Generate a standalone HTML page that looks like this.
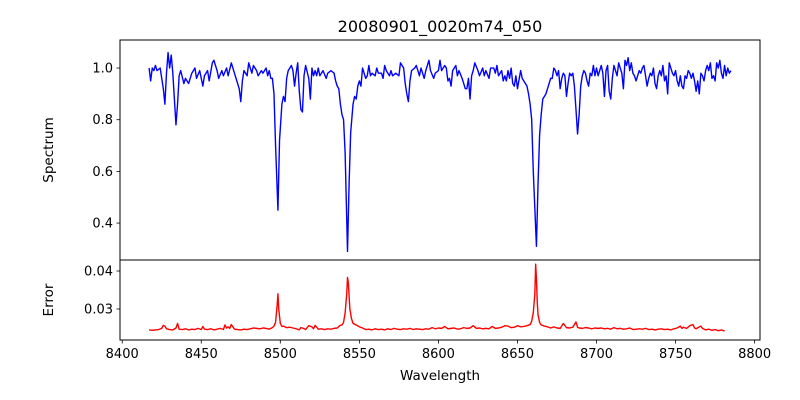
<!DOCTYPE html>
<html><head><meta charset="utf-8"><style>
html,body{margin:0;padding:0;background:#fff;}
svg{display:block;font-family:"DejaVu Sans","Liberation Sans",sans-serif;}
</style></head><body>
<svg id="chart" width="800" height="400" viewBox="0 0 800 400">
<rect x="0" y="0" width="800" height="400" fill="#fff"/>
<text x="440" y="32" font-size="16" text-anchor="middle">20080901_0020m74_050</text>
<text x="0" y="0" font-size="13.5" text-anchor="middle" transform="translate(53,150) rotate(-90)">Spectrum</text>
<text x="0" y="0" font-size="13.5" text-anchor="middle" transform="translate(53,300) rotate(-90)">Error</text>
<text x="440" y="380" font-size="13.5" text-anchor="middle">Wavelength</text>
<g id="topPanel"></g>
<g id="botPanel"></g>
</svg>
<script>
const specWave=[8417,8418,8419,8420,8421,8422,8424,8425,8426,8427,8428,8429,8430,8431,8432,8433,8434,8435,8436,8437,8439,8440,8442,8444,8446,8447,8449,8451,8452,8454,8455,8457,8458,8460,8461,8463,8464,8466,8467,8469,8471,8472,8474,8475,8476,8477,8479,8480,8482,8483,8485,8486,8488,8489,8491,8492,8493,8494,8495,8496,8497,8498.5,8499.5,8501,8502,8503,8504,8505,8507,8508,8509,8510,8511,8512,8513,8514,8515,8516,8518,8519,8520,8521,8522,8523,8524,8525,8527,8529,8530,8532,8534,8535,8536,8537,8538,8539,8540,8541,8542.5,8543.5,8544.5,8546,8547,8548,8549,8550,8551,8552,8553,8554,8555,8556,8557,8558,8560,8561,8562,8564,8565,8566,8567,8569,8570,8571,8573,8575,8576,8578,8579,8580,8581,8582,8583,8585,8586,8588,8589,8591,8592,8594,8595,8597,8598,8600,8601,8602,8604,8605,8606,8607,8608,8609,8611,8612,8613,8615,8616,8617,8618,8619,8620,8621,8622,8623,8625,8626,8628,8629,8630,8632,8633,8635,8636,8637,8638,8640,8641,8642,8643,8644,8645,8646,8647,8648,8649,8650,8652,8653,8654,8655,8656,8657,8658,8659,8660,8662,8663,8664,8665,8666,8667,8668,8669,8670,8671,8672,8673,8674,8675,8676,8677,8678,8679,8680,8681,8682,8683,8684,8685,8686,8687,8688,8689,8690,8691,8692,8693,8694,8695,8696,8697,8698,8699,8700,8701,8702,8703,8704,8705,8706,8707,8708,8709,8710,8711,8712,8713,8714,8715,8716,8717,8718,8719,8720,8721,8722,8723,8724,8725,8726,8727,8728,8729,8730,8731,8732,8733,8734,8735,8736,8737,8738,8739,8740,8741,8742,8743,8744,8745,8746,8747,8748,8749,8750,8751,8752,8753,8754,8755,8756,8757,8758,8759,8760,8761,8762,8763,8764,8765,8766,8767,8768,8769,8770,8771,8772,8773,8774,8775,8776,8777,8778,8779,8780,8781,8782,8783,8784,8785];
const specFlux=[1.00,0.95,1.00,0.99,1.01,0.99,1.00,0.96,0.92,0.86,0.98,1.06,1.00,1.05,0.98,0.88,0.78,0.86,0.97,0.99,0.94,0.96,0.94,0.98,1.00,0.96,0.99,0.93,0.97,0.99,0.95,1.02,1.03,0.99,0.96,0.99,0.97,1.00,0.97,1.02,0.98,0.96,0.92,0.87,0.95,0.99,0.97,1.02,0.98,1.01,0.99,0.97,0.99,0.98,1.00,0.97,0.99,0.96,0.96,0.90,0.70,0.45,0.72,0.86,0.89,0.87,0.96,0.99,1.01,0.99,0.93,0.98,1.02,0.91,0.84,0.83,0.97,1.01,0.96,0.88,1.00,0.97,0.99,0.97,1.00,0.97,0.99,0.96,0.98,0.99,0.98,0.95,0.93,0.92,0.86,0.82,0.80,0.67,0.29,0.55,0.75,0.86,0.89,0.88,0.93,0.95,0.93,1.00,0.98,0.96,0.97,1.01,0.97,0.98,0.97,1.00,0.98,0.98,0.96,1.01,0.99,0.97,0.99,0.97,0.98,0.97,1.02,1.00,0.94,0.90,0.87,0.95,0.99,1.00,1.01,0.97,1.00,0.96,0.99,1.03,0.99,0.96,0.98,0.99,1.03,0.99,1.01,1.00,0.95,0.96,0.93,0.99,1.01,0.97,0.99,0.96,0.94,0.92,0.92,0.96,0.88,0.97,0.99,1.02,0.99,0.97,1.00,0.97,0.99,0.96,1.00,1.00,0.98,1.01,0.97,0.99,0.95,0.97,0.95,0.99,0.96,1.00,0.94,0.93,0.97,0.92,0.99,0.96,0.95,0.94,0.93,0.90,0.86,0.80,0.60,0.31,0.55,0.74,0.82,0.88,0.89,0.90,0.92,0.94,0.96,0.96,1.00,0.99,0.97,0.99,0.92,0.96,0.98,0.97,0.89,0.94,0.98,0.97,0.98,0.93,0.84,0.745,0.82,0.93,0.97,0.99,0.98,0.95,0.93,0.98,0.97,1.01,0.97,1.00,0.97,0.99,1.01,0.98,0.89,0.99,1.01,0.91,0.88,0.96,1.01,0.99,0.97,1.02,1.00,0.98,0.92,1.03,1.01,1.04,0.99,1.02,0.98,0.97,0.95,0.97,0.99,0.98,1.00,1.01,0.97,0.93,0.96,0.98,0.97,1.00,0.94,0.92,0.97,0.99,0.97,1.01,0.95,0.97,0.90,1.02,1.00,0.98,0.97,0.99,0.95,0.93,0.97,0.93,0.92,0.97,0.96,0.99,0.98,0.96,0.98,0.95,0.91,0.95,0.90,0.98,0.97,0.95,0.99,1.01,0.99,1.02,0.96,0.97,0.95,1.02,1.00,1.03,0.98,0.96,1.01,0.97,1.00,0.98,0.99];
const errWave=[8417,8419,8421,8423,8425,8426,8427,8428,8430,8432,8434,8435,8436,8438,8440,8442,8444,8446,8448,8450,8451,8452,8454,8456,8458,8460,8462,8464,8465,8466,8467,8468,8469,8471,8473,8475,8477,8479,8481,8483,8485,8487,8489,8491,8493,8495,8496,8497,8498,8498.5,8499,8500,8501,8502,8504,8506,8508,8510,8512,8513,8514,8516,8518,8520,8521,8522,8524,8526,8528,8530,8532,8534,8536,8537,8538,8539,8540,8541,8542,8542.5,8543,8544,8545,8546,8548,8550,8552,8554,8556,8558,8560,8562,8564,8566,8568,8570,8572,8574,8576,8578,8580,8582,8584,8586,8588,8590,8592,8594,8596,8598,8600,8602,8604,8606,8608,8610,8612,8614,8616,8618,8620,8622,8624,8626,8628,8630,8632,8634,8636,8638,8640,8642,8644,8646,8648,8650,8652,8654,8656,8658,8659,8660,8661,8661.5,8662,8662.5,8663,8664,8665,8667,8669,8671,8673,8675,8677,8679,8681,8683,8685,8687,8688,8689,8691,8693,8695,8697,8699,8701,8703,8705,8707,8709,8711,8713,8715,8717,8719,8721,8723,8725,8727,8729,8731,8733,8735,8737,8739,8741,8743,8745,8747,8749,8751,8753,8754,8755,8757,8759,8761,8762,8763,8765,8766,8767,8769,8771,8773,8775,8777,8779,8781,8783,8785];
const errVal=[0.0245,0.0244,0.0245,0.0246,0.0249,0.0257,0.0255,0.0248,0.0246,0.0245,0.0250,0.0262,0.0247,0.0246,0.0248,0.0245,0.0247,0.0246,0.0249,0.0246,0.0254,0.0247,0.0246,0.0248,0.0245,0.0247,0.0249,0.0246,0.0258,0.0250,0.0253,0.0249,0.0259,0.0247,0.0246,0.0245,0.0247,0.0246,0.0248,0.0250,0.0249,0.0248,0.0250,0.0249,0.0247,0.0251,0.0255,0.0265,0.0310,0.0340,0.0300,0.0262,0.0254,0.0255,0.0251,0.0252,0.0250,0.0248,0.0245,0.0251,0.0250,0.0246,0.0256,0.0253,0.0248,0.0257,0.0247,0.0248,0.0246,0.0248,0.0247,0.0249,0.0250,0.0254,0.0257,0.0258,0.0265,0.0290,0.0340,0.0383,0.0370,0.0300,0.0275,0.0262,0.0258,0.0253,0.0250,0.0246,0.0247,0.0245,0.0248,0.0246,0.0247,0.0245,0.0248,0.0246,0.0249,0.0247,0.0246,0.0248,0.0247,0.0249,0.0246,0.0248,0.0247,0.0246,0.0248,0.0247,0.0251,0.0248,0.0250,0.0249,0.0254,0.0248,0.0249,0.0250,0.0247,0.0248,0.0251,0.0249,0.0250,0.0256,0.0249,0.0250,0.0248,0.0249,0.0248,0.0254,0.0249,0.0250,0.0252,0.0256,0.0255,0.0251,0.0252,0.0256,0.0253,0.0254,0.0256,0.0259,0.0268,0.0290,0.0340,0.0418,0.0380,0.0320,0.0285,0.0265,0.0258,0.0255,0.0253,0.0250,0.0253,0.0250,0.0249,0.0262,0.0251,0.0250,0.0252,0.0266,0.0252,0.0250,0.0249,0.0251,0.0250,0.0248,0.0250,0.0249,0.0250,0.0248,0.0249,0.0247,0.0251,0.0248,0.0249,0.0247,0.0248,0.0250,0.0246,0.0247,0.0248,0.0247,0.0249,0.0246,0.0247,0.0245,0.0247,0.0248,0.0246,0.0247,0.0245,0.0248,0.0250,0.0255,0.0249,0.0252,0.0249,0.0256,0.0259,0.0250,0.0248,0.0253,0.0255,0.0249,0.0245,0.0247,0.0244,0.0246,0.0243,0.0245,0.0242];
const xTicks=[8400,8450,8500,8550,8600,8650,8700,8750,8800];
const specTicks=[0.4,0.6,0.8,1.0];
const specTickLabels=["0.4","0.6","0.8","1.0"];
const errTicks=[0.03,0.04];
const errTickLabels=["0.03","0.04"];

const NS="http://www.w3.org/2000/svg";
const L=120,R=760,T1=40,B1=260,T2=260,B2=340;
const xMin=8398.6,xMax=8803.4;
const y1Min=0.257,y1Max=1.1085;
const y2Min=0.02184,y2Max=0.0429;
const sx=v=>L+(v-xMin)/(xMax-xMin)*(R-L);
const sy1=v=>B1-(v-y1Min)/(y1Max-y1Min)*(B1-T1);
const sy2=v=>B2-(v-y2Min)/(y2Max-y2Min)*(B2-T2);
function mk(tag,attrs,parent){const e=document.createElementNS(NS,tag);for(const k in attrs)e.setAttribute(k,attrs[k]);parent.appendChild(e);return e;}
const topG=document.getElementById('topPanel'),botG=document.getElementById('botPanel');

const nS=Math.min(specWave.length,specFlux.length);
let d='';
for(let i=0;i<nS;i++){d+=(i?'L':'M')+sx(specWave[i]).toFixed(2)+','+sy1(specFlux[i]).toFixed(2);}
let p=mk('path',{d:d,fill:'none',stroke:'#0000ff','stroke-width':1.4,'stroke-linejoin':'round'},topG);


const nE=Math.min(errWave.length,errVal.length);
d='';
for(let i=0;i<nE;i++){d+=(i?'L':'M')+sx(errWave[i]).toFixed(2)+','+sy2(errVal[i]).toFixed(2);}
p=mk('path',{d:d,fill:'none',stroke:'#ff0000','stroke-width':1.4,'stroke-linejoin':'round'},botG);



let f=mk('rect',{x:L,y:T1,width:R-L,height:B1-T1,fill:'none',stroke:'#000','stroke-width':1},topG);


f=mk('rect',{x:L,y:T2,width:R-L,height:B2-T2,fill:'none',stroke:'#000','stroke-width':1},botG);



xTicks.forEach(v=>{
  const x=sx(v);
  let t=mk('line',{x1:x,x2:x,y1:B2,y2:B2+3.5,stroke:'#000','stroke-width':0.8},botG);
  
  
  const tx=mk('text',{x:x,y:B2+18,'font-size':13,'text-anchor':'middle'},botG);
  tx.textContent=String(v);
  
  
});
specTicks.forEach((v,i)=>{
  const y=sy1(v);
  const t=mk('line',{x1:L-3.5,x2:L,y1:y,y2:y,stroke:'#000','stroke-width':0.8},topG);
  
  
  const tx=mk('text',{x:L-7,y:y+4.5,'font-size':13,'text-anchor':'end'},topG);
  tx.textContent=specTickLabels[i];
  
  
});
errTicks.forEach((v,i)=>{
  const y=sy2(v);
  const t=mk('line',{x1:L-3.5,x2:L,y1:y,y2:y,stroke:'#000','stroke-width':0.8},botG);
  
  
  const tx=mk('text',{x:L-7,y:y+4.5,'font-size':13,'text-anchor':'end'},botG);
  tx.textContent=errTickLabels[i];
  
  
});
</script>
</body></html>
